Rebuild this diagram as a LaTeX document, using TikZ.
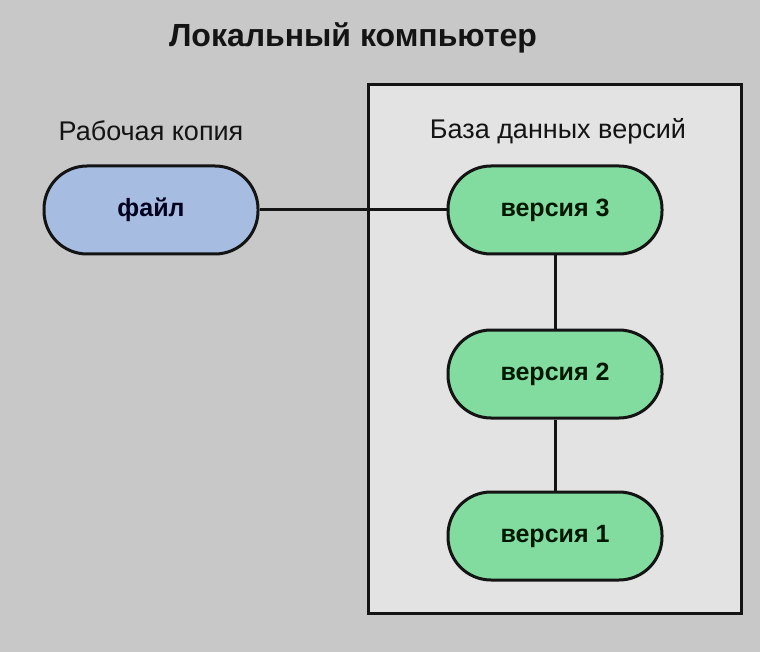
\documentclass[tikz,border=0pt]{standalone}
\usepackage{fontspec}
\setmainfont{Liberation Sans}
\definecolor{bgcol}{HTML}{C8C8C8}
\definecolor{boxcol}{HTML}{E3E3E3}
\definecolor{filecol}{HTML}{A6BCE0}
\definecolor{vercol}{HTML}{82DCA0}
\definecolor{inkcol}{HTML}{141414}
\begin{document}
\begin{tikzpicture}[x=1pt,y=-1pt,
  pill/.style={draw=inkcol, line width=3pt, rounded corners=43pt,
    minimum width=214pt, minimum height=88pt, inner sep=0pt,
    font=\fontsize{25}{30}\selectfont\bfseries, text=inkcol},
  filepill/.style={pill, fill=filecol, text=black!80!blue!60!black},
  verpill/.style={pill, fill=vercol, text=black!85!green!60!black},
  label/.style={font=\fontsize{27}{32}\selectfont, text=inkcol},
  link/.style={draw=inkcol, line width=3pt}]
  \useasboundingbox[fill=bgcol] (0,0) rectangle (760,652);
  \node[draw=inkcol, line width=3pt, fill=boxcol, minimum width=373pt, minimum height=528pt, inner sep=0pt] (db) at (554.5,349) {};
  \node[font=\fontsize{32}{38}\selectfont\bfseries, text=inkcol] (title) at (353,38) {Локальный компьютер};
  \node[label] (wc) at (151,131) {Рабочая копия};
  \node[label] (dbl) at (558,131) {База данных версий};
  \node[filepill] (file) at (151,210) {файл};
  \node[verpill] (v3) at (555,210) {версия 3};
  \node[verpill] (v2) at (555,374) {версия 2};
  \node[verpill] (v1) at (555,536) {версия 1};
  \draw[link] (file) -- (v3);
  \draw[link] (v3) -- (v2);
  \draw[link] (v2) -- (v1);
\end{tikzpicture}
\end{document}
